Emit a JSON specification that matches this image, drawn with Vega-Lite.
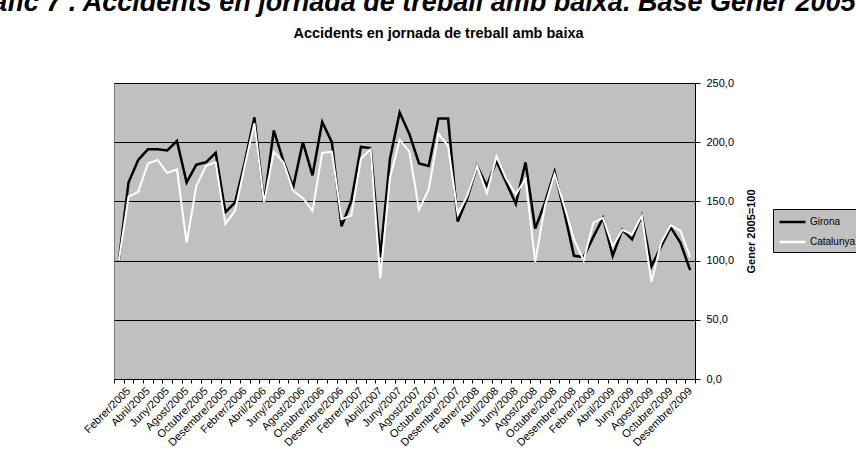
{
  "$schema": "https://vega.github.io/schema/vega-lite/v6.json",
  "autosize": {"type": "none"},
  "width": 581,
  "height": 296,
  "padding": {"left": 114, "top": 83, "right": 161, "bottom": 97},
  "background": "white",
  "config": {
    "font": "Liberation Sans",
    "view": {"fill": "#c0c0c0", "stroke": "#808080", "strokeWidth": 1}
  },
  "title": {
    "text": "Gràfic 7 . Accidents en jornada de treball amb baixa. Base Gener 2005=100",
    "subtitle": "Accidents en jornada de treball amb baixa",
    "anchor": "middle",
    "dx": 34,
    "offset": 36,
    "font": "Liberation Sans",
    "fontSize": 27,
    "fontStyle": "italic",
    "fontWeight": "bold",
    "color": "#000000",
    "subtitleFont": "Liberation Sans",
    "subtitleFontSize": 14.5,
    "subtitleFontWeight": "bold",
    "subtitleColor": "#000000",
    "subtitlePadding": 10
  },
  "data": {
    "values": [
      {"mes": "Gener/2005", "serie": "Girona", "valor": 100}, {"mes": "Gener/2005", "serie": "Catalunya", "valor": 100},
      {"mes": "Febrer/2005", "serie": "Girona", "valor": 166}, {"mes": "Febrer/2005", "serie": "Catalunya", "valor": 154},
      {"mes": "Març/2005", "serie": "Girona", "valor": 185}, {"mes": "Març/2005", "serie": "Catalunya", "valor": 158},
      {"mes": "Abril/2005", "serie": "Girona", "valor": 194}, {"mes": "Abril/2005", "serie": "Catalunya", "valor": 182},
      {"mes": "Maig/2005", "serie": "Girona", "valor": 194}, {"mes": "Maig/2005", "serie": "Catalunya", "valor": 185},
      {"mes": "Juny/2005", "serie": "Girona", "valor": 193}, {"mes": "Juny/2005", "serie": "Catalunya", "valor": 174},
      {"mes": "Juliol/2005", "serie": "Girona", "valor": 201}, {"mes": "Juliol/2005", "serie": "Catalunya", "valor": 177},
      {"mes": "Agost/2005", "serie": "Girona", "valor": 166}, {"mes": "Agost/2005", "serie": "Catalunya", "valor": 115},
      {"mes": "Setembre/2005", "serie": "Girona", "valor": 181}, {"mes": "Setembre/2005", "serie": "Catalunya", "valor": 163},
      {"mes": "Octubre/2005", "serie": "Girona", "valor": 183}, {"mes": "Octubre/2005", "serie": "Catalunya", "valor": 180},
      {"mes": "Novembre/2005", "serie": "Girona", "valor": 191}, {"mes": "Novembre/2005", "serie": "Catalunya", "valor": 183},
      {"mes": "Desembre/2005", "serie": "Girona", "valor": 141}, {"mes": "Desembre/2005", "serie": "Catalunya", "valor": 131},
      {"mes": "Gener/2006", "serie": "Girona", "valor": 149}, {"mes": "Gener/2006", "serie": "Catalunya", "valor": 142},
      {"mes": "Febrer/2006", "serie": "Girona", "valor": 183}, {"mes": "Febrer/2006", "serie": "Catalunya", "valor": 180},
      {"mes": "Març/2006", "serie": "Girona", "valor": 221}, {"mes": "Març/2006", "serie": "Catalunya", "valor": 216},
      {"mes": "Abril/2006", "serie": "Girona", "valor": 149}, {"mes": "Abril/2006", "serie": "Catalunya", "valor": 149},
      {"mes": "Maig/2006", "serie": "Girona", "valor": 210}, {"mes": "Maig/2006", "serie": "Catalunya", "valor": 192},
      {"mes": "Juny/2006", "serie": "Girona", "valor": 184}, {"mes": "Juny/2006", "serie": "Catalunya", "valor": 183},
      {"mes": "Juliol/2006", "serie": "Girona", "valor": 162}, {"mes": "Juliol/2006", "serie": "Catalunya", "valor": 159},
      {"mes": "Agost/2006", "serie": "Girona", "valor": 200}, {"mes": "Agost/2006", "serie": "Catalunya", "valor": 153},
      {"mes": "Setembre/2006", "serie": "Girona", "valor": 172}, {"mes": "Setembre/2006", "serie": "Catalunya", "valor": 142},
      {"mes": "Octubre/2006", "serie": "Girona", "valor": 217}, {"mes": "Octubre/2006", "serie": "Catalunya", "valor": 191},
      {"mes": "Novembre/2006", "serie": "Girona", "valor": 200}, {"mes": "Novembre/2006", "serie": "Catalunya", "valor": 192},
      {"mes": "Desembre/2006", "serie": "Girona", "valor": 129}, {"mes": "Desembre/2006", "serie": "Catalunya", "valor": 135},
      {"mes": "Gener/2007", "serie": "Girona", "valor": 150}, {"mes": "Gener/2007", "serie": "Catalunya", "valor": 138},
      {"mes": "Febrer/2007", "serie": "Girona", "valor": 196}, {"mes": "Febrer/2007", "serie": "Catalunya", "valor": 186},
      {"mes": "Març/2007", "serie": "Girona", "valor": 195}, {"mes": "Març/2007", "serie": "Catalunya", "valor": 194},
      {"mes": "Abril/2007", "serie": "Girona", "valor": 103}, {"mes": "Abril/2007", "serie": "Catalunya", "valor": 85},
      {"mes": "Maig/2007", "serie": "Girona", "valor": 186}, {"mes": "Maig/2007", "serie": "Catalunya", "valor": 170},
      {"mes": "Juny/2007", "serie": "Girona", "valor": 225}, {"mes": "Juny/2007", "serie": "Catalunya", "valor": 202},
      {"mes": "Juliol/2007", "serie": "Girona", "valor": 207}, {"mes": "Juliol/2007", "serie": "Catalunya", "valor": 192},
      {"mes": "Agost/2007", "serie": "Girona", "valor": 182}, {"mes": "Agost/2007", "serie": "Catalunya", "valor": 143},
      {"mes": "Setembre/2007", "serie": "Girona", "valor": 180}, {"mes": "Setembre/2007", "serie": "Catalunya", "valor": 160},
      {"mes": "Octubre/2007", "serie": "Girona", "valor": 220}, {"mes": "Octubre/2007", "serie": "Catalunya", "valor": 207},
      {"mes": "Novembre/2007", "serie": "Girona", "valor": 220}, {"mes": "Novembre/2007", "serie": "Catalunya", "valor": 197},
      {"mes": "Desembre/2007", "serie": "Girona", "valor": 133}, {"mes": "Desembre/2007", "serie": "Catalunya", "valor": 139},
      {"mes": "Gener/2008", "serie": "Girona", "valor": 153}, {"mes": "Gener/2008", "serie": "Catalunya", "valor": 155},
      {"mes": "Febrer/2008", "serie": "Girona", "valor": 180}, {"mes": "Febrer/2008", "serie": "Catalunya", "valor": 180},
      {"mes": "Març/2008", "serie": "Girona", "valor": 163}, {"mes": "Març/2008", "serie": "Catalunya", "valor": 157},
      {"mes": "Abril/2008", "serie": "Girona", "valor": 184}, {"mes": "Abril/2008", "serie": "Catalunya", "valor": 188},
      {"mes": "Maig/2008", "serie": "Girona", "valor": 166}, {"mes": "Maig/2008", "serie": "Catalunya", "valor": 169},
      {"mes": "Juny/2008", "serie": "Girona", "valor": 148}, {"mes": "Juny/2008", "serie": "Catalunya", "valor": 156},
      {"mes": "Juliol/2008", "serie": "Girona", "valor": 183}, {"mes": "Juliol/2008", "serie": "Catalunya", "valor": 169},
      {"mes": "Agost/2008", "serie": "Girona", "valor": 127}, {"mes": "Agost/2008", "serie": "Catalunya", "valor": 99},
      {"mes": "Setembre/2008", "serie": "Girona", "valor": 149}, {"mes": "Setembre/2008", "serie": "Catalunya", "valor": 146},
      {"mes": "Octubre/2008", "serie": "Girona", "valor": 175}, {"mes": "Octubre/2008", "serie": "Catalunya", "valor": 173},
      {"mes": "Novembre/2008", "serie": "Girona", "valor": 141}, {"mes": "Novembre/2008", "serie": "Catalunya", "valor": 146},
      {"mes": "Desembre/2008", "serie": "Girona", "valor": 104}, {"mes": "Desembre/2008", "serie": "Catalunya", "valor": 118},
      {"mes": "Gener/2009", "serie": "Girona", "valor": 103}, {"mes": "Gener/2009", "serie": "Catalunya", "valor": 100},
      {"mes": "Febrer/2009", "serie": "Girona", "valor": 120}, {"mes": "Febrer/2009", "serie": "Catalunya", "valor": 132},
      {"mes": "Març/2009", "serie": "Girona", "valor": 136}, {"mes": "Març/2009", "serie": "Catalunya", "valor": 136},
      {"mes": "Abril/2009", "serie": "Girona", "valor": 104}, {"mes": "Abril/2009", "serie": "Catalunya", "valor": 112},
      {"mes": "Maig/2009", "serie": "Girona", "valor": 126}, {"mes": "Maig/2009", "serie": "Catalunya", "valor": 126},
      {"mes": "Juny/2009", "serie": "Girona", "valor": 118}, {"mes": "Juny/2009", "serie": "Catalunya", "valor": 122},
      {"mes": "Juliol/2009", "serie": "Girona", "valor": 138}, {"mes": "Juliol/2009", "serie": "Catalunya", "valor": 138},
      {"mes": "Agost/2009", "serie": "Girona", "valor": 95}, {"mes": "Agost/2009", "serie": "Catalunya", "valor": 82},
      {"mes": "Setembre/2009", "serie": "Girona", "valor": 112}, {"mes": "Setembre/2009", "serie": "Catalunya", "valor": 115},
      {"mes": "Octubre/2009", "serie": "Girona", "valor": 128}, {"mes": "Octubre/2009", "serie": "Catalunya", "valor": 130},
      {"mes": "Novembre/2009", "serie": "Girona", "valor": 115}, {"mes": "Novembre/2009", "serie": "Catalunya", "valor": 125},
      {"mes": "Desembre/2009", "serie": "Girona", "valor": 92}, {"mes": "Desembre/2009", "serie": "Catalunya", "valor": 103}
    ]
  },
  "encoding": {
    "x": {
      "field": "mes",
      "type": "nominal",
      "sort": null,
      "scale": {"type": "band", "paddingInner": 0, "paddingOuter": 0},
      "axis": {
        "title": null,
        "tickBand": "extent",
        "labelAngle": -45,
        "labelAlign": "right",
        "labelBaseline": "middle",
        "labelOverlap": false,
        "labelFontSize": 11,
        "labelColor": "#000000",
        "labelPadding": 6,
        "labelExpr": "test(/^(Febrer|Abril|Juny|Agost|Octubre|Desembre)\\//, datum.value) ? datum.value : ''",
        "tickSize": 4,
        "tickColor": "#000000",
        "domainColor": "#000000",
        "grid": false
      }
    },
    "y": {
      "field": "valor",
      "type": "quantitative",
      "scale": {"domain": [0, 250], "nice": false},
      "axis": {
        "orient": "right",
        "values": [0, 50, 100, 150, 200, 250],
        "labelExpr": "replace(format(datum.value, '.1f'), '.', ',')",
        "labelFontSize": 11,
        "labelColor": "#000000",
        "labelPadding": 6,
        "tickSize": 5,
        "tickColor": "#000000",
        "domainColor": "#000000",
        "grid": true,
        "gridColor": "#000000",
        "gridWidth": 1,
        "title": "Gener 2005=100",
        "titleAngle": 270,
        "titleBaseline": "top",
        "titleFontSize": 11,
        "titleFontWeight": "bold",
        "titleColor": "#000000",
        "titlePadding": 12
      }
    },
    "color": {
      "field": "serie",
      "type": "nominal",
      "scale": {"domain": ["Girona", "Catalunya"], "range": ["#000000", "#ffffff"]},
      "legend": {
        "title": null,
        "orient": "none",
        "legendX": 659,
        "legendY": 126,
        "symbolType": "M-1,0H3",
        "symbolSize": 169,
        "symbolStrokeWidth": 2.5,
        "labelFontSize": 10,
        "labelColor": "#000000",
        "labelOffset": 16,
        "rowPadding": 7,
        "padding": 5,
        "fillColor": "#c0c0c0",
        "strokeColor": "#000000"
      }
    }
  },
  "layer": [
    {
      "transform": [{"filter": "datum.serie === 'Girona'"}],
      "mark": {"type": "line", "strokeWidth": 2.5}
    },
    {
      "transform": [{"filter": "datum.serie === 'Catalunya'"}],
      "mark": {"type": "line", "strokeWidth": 2}
    }
  ]
}
